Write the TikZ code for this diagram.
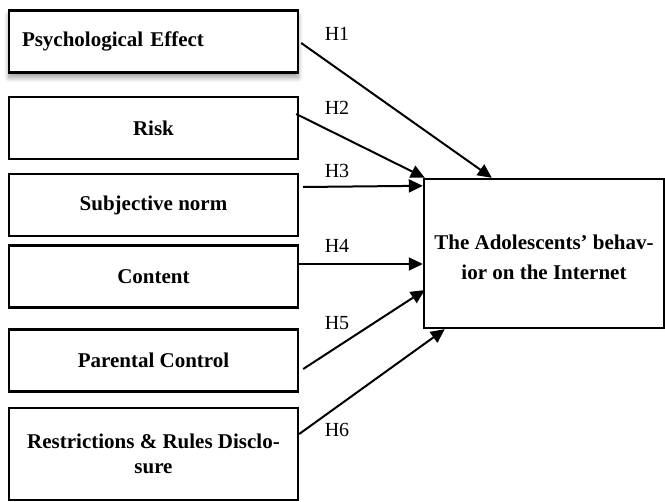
\documentclass[tikz,border=0pt]{standalone}
\usepackage{fontspec}
\setmainfont{Liberation Serif}
\usetikzlibrary{shapes,arrows.meta,shadows,shadows.blur}

\begin{document}
\begin{tikzpicture}[x=1pt,y=-1pt]
      \tikzstyle{factor}=[rectangle,draw,line width=2.4pt,fill=white,minimum width=289pt,minimum height=62pt,align=center,font=\fontsize{21}{25}\selectfont\bfseries]
      \tikzstyle{hyp}=[-{Triangle[length=14pt,width=13pt]},line width=2pt]
      \tikzstyle{hlabel}=[font=\fontsize{20}{22}\selectfont]
      \useasboundingbox (0,0) rectangle (665,502);
      \node[factor,text width=263pt,inner xsep=13pt,align=left,blur shadow={shadow xshift=0pt,shadow yshift=-5pt,shadow blur steps=10,shadow blur radius=5pt,shadow opacity=40}] (psych) at (153.5,41.5) {Psychological Effect};
      \node[factor] (risk) at (153.5,128) {Risk};
      \node[factor] (subj) at (153.5,205) {Subjective norm};
      \node[factor] (content) at (153.5,276.5) {Content};
      \node[factor] (parent) at (153.5,360.5) {Parental Control};
      \node[factor,minimum height=92pt] (rules) at (153.5,454) {Restrictions \& Rules Disclo-\\sure};
      \node[factor,minimum width=240pt,minimum height=149pt,font=\fontsize{21}{30}\selectfont\bfseries] (dv) at (544,253.5) {\rule{0pt}{22pt}The Adolescents' behav-\\ior on the Internet};
      \draw[hyp] ([xshift=2pt,yshift=-1.5pt]psych.east) -- ([xshift=69pt]dv.north west);
      \draw[hyp] ([xshift=-3pt,yshift=14pt]risk.east) -- ([xshift=2pt]dv.north west);
      \draw[hyp] ([xshift=4pt,yshift=18pt]subj.east) -- ([yshift=-8pt]dv.north west);
      \draw[hyp] ([yshift=12.5pt]content.east) -- ([yshift=-10.5pt]dv.west);
      \draw[hyp] ([xshift=4pt,yshift=-8.5pt]parent.east) -- ([xshift=2pt,yshift=-36.5pt]dv.west);
      \draw[hyp] ([yshift=20pt]rules.east) -- ([xshift=22pt]dv.south west);
      \node[hlabel] (h1) at (337,34) {H1};
      \node[hlabel] (h2) at (337,108) {H2};
      \node[hlabel] (h3) at (337,171) {H3};
      \node[hlabel] (h4) at (337,246) {H4};
      \node[hlabel] (h5) at (337,323) {H5};
      \node[hlabel] (h6) at (337,430) {H6};
\end{tikzpicture}
\end{document}
